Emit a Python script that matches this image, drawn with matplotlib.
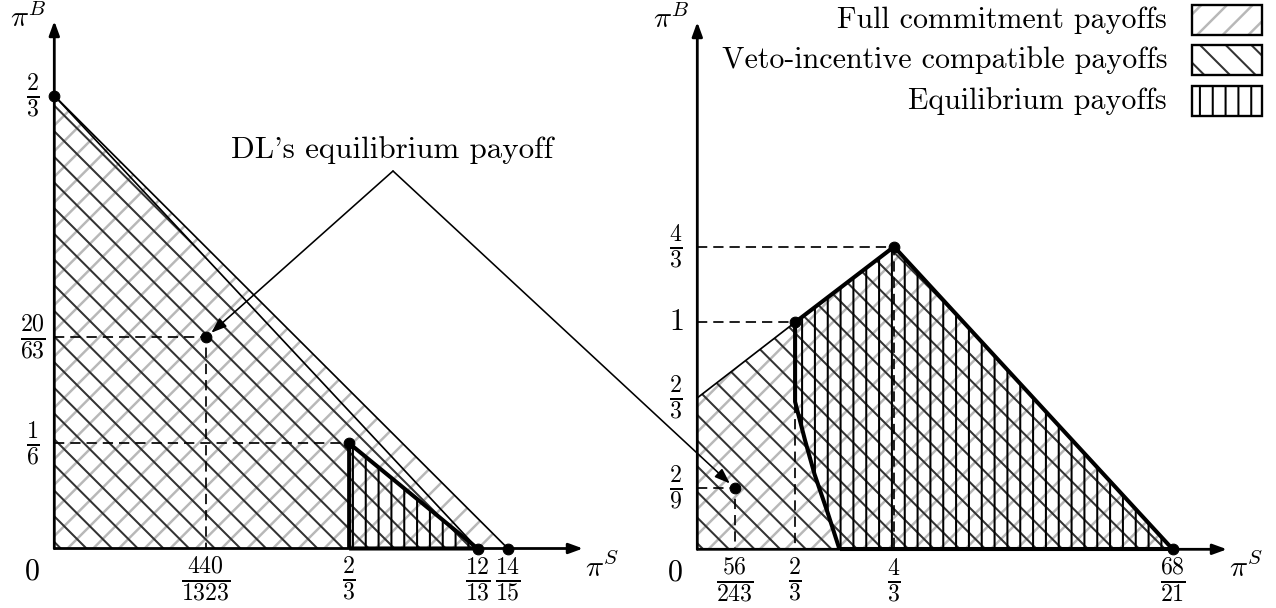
import matplotlib
matplotlib.use("Agg")
import matplotlib.pyplot as plt
from matplotlib.patches import Polygon, Rectangle

plt.rcParams['mathtext.fontset'] = 'cm'
plt.rcParams['font.family'] = 'cmr10'
plt.rcParams['axes.unicode_minus'] = False
plt.rcParams['hatch.linewidth'] = 2.0

DPI = 77
W, H = 1276, 608
FS = 28
FS_FRAC = 32

LIGHT = '#b8b8b8'
DARK = '#333333'

# ---- left panel (positions as drawn in the picture) ----
l_top = 0.667          # 2/3 on pi^B axis
l_full_end = 0.986     # 14/15
l_veto_end = 0.920     # 12/13
l_eq_x = 0.641         # 2/3
l_eq_y = 0.155         # 1/6
l_dl = (0.330, 0.311)  # (440/1323, 20/63)
l_xticks = [0.330, 0.641, 0.920, 0.986]
l_xlabels = [r'$\frac{440}{1323}$', r'$\frac{2}{3}$', r'$\frac{12}{13}$', r'$\frac{14}{15}$']
l_yticks = [0.667, 0.311, 0.155]
l_ylabels = [r'$\frac{2}{3}$', r'$\frac{20}{63}$', r'$\frac{1}{6}$']

# ---- right panel ----
r_full_x = [0, 0, 0.667, 1.342, 3.243]
r_full_y = [0, 0.667, 1.0, 1.333, 0]
r_eq_x = [0.667, 0.667, 0.735, 0.80, 0.89, 0.97]
r_eq_y = [1.0, 0.65, 0.48, 0.33, 0.16, 0]
r_dl = (0.257, 0.269)  # (56/243, 2/9)
r_xticks = [0.257, 0.667, 1.342, 3.243]
r_xlabels = [r'$\frac{56}{243}$', r'$\frac{2}{3}$', r'$\frac{4}{3}$', r'$\frac{68}{21}$']
r_yticks = [1.333, 1.0, 0.667, 0.269]
r_ylabels = [r'$\frac{4}{3}$', r'$1$', r'$\frac{2}{3}$', r'$\frac{2}{9}$']

legend_labels = ['Full commitment payoffs', 'Veto-incentive compatible payoffs', 'Equilibrium payoffs']


def pt(px):
    return px * 72 / DPI


fig = plt.figure(figsize=(W / DPI, H / DPI), dpi=DPI)

# axes placed so that the drawing origin lands where it is in the picture
axL = fig.add_axes([0, 0, 638 / W, 1])
axL.set_xlim(-54.3 / 460, (638 - 54.3) / 460)
axL.set_ylim(-(H - 548.5) / 678.8, 548.5 / 678.8)
axR = fig.add_axes([638 / W, 0, 638 / W, 1])
axR.set_xlim((638 - 697.3) / 146.6, (1276 - 697.3) / 146.6)
axR.set_ylim(-(H - 549.3) / 227, 549.3 / 227)
ov = fig.add_axes([0, 0, 1, 1])
ov.set_xlim(0, W)
ov.set_ylim(H, 0)
for a in (axL, axR, ov):
    a.axis('off')
ov.patch.set_alpha(0)


def hatch(ax, verts, pattern, color, hlw, z):
    p = Polygon(verts, closed=True, facecolor='none', edgecolor=color, lw=0, hatch=pattern, zorder=z)
    if hasattr(p, 'set_hatch_linewidth'):
        p.set_hatch_linewidth(hlw)
    ax.add_patch(p)
    return p


def axes_arrows(ax, xend, yend):
    ap = dict(arrowstyle='-|>,head_length=0.55,head_width=0.2', lw=2.6, color='k',
              shrinkA=0, shrinkB=0, mutation_scale=20)
    ax.annotate('', xy=(xend, 0), xytext=(0, 0), arrowprops=ap, zorder=8)
    ax.annotate('', xy=(0, yend), xytext=(0, 0), arrowprops=ap, zorder=8)


def ticklabels(ax, xt, xl, yt, yl, xend, yend):
    for x, s in zip(xt, xl):
        ax.annotate(s, (x, 0), xytext=(0, -pt(31)), textcoords='offset points',
                    ha='center', va='center', fontsize=FS_FRAC)
    for y, s in zip(yt, yl):
        fs = FS if s == r'$1$' else FS_FRAC
        ax.annotate(s, (0, y), xytext=(-pt(21), 0), textcoords='offset points',
                    ha='center', va='center', fontsize=fs)
    ax.annotate('$0$', (0, 0), xytext=(-pt(22), -pt(23)), textcoords='offset points',
                ha='center', va='center', fontsize=FS)
    ax.annotate(r'$\pi^B$', (0, yend), xytext=(-pt(26), pt(3)), textcoords='offset points',
                ha='center', va='center', fontsize=FS)
    ax.annotate(r'$\pi^S$', (xend, 0), xytext=(pt(2), -pt(19)), textcoords='offset points',
                ha='left', va='center', fontsize=FS)


dash = dict(color='k', lw=1.6, dashes=(6, 3.5), zorder=4)
thin = dict(color='k', lw=1.6, zorder=5, solid_capstyle='butt')
thick = dict(color='k', lw=3.8, zorder=6, solid_joinstyle='miter', solid_capstyle='butt')
dot = dict(marker='o', ms=10, color='k', ls='none', zorder=9)

# ---- left panel ----
hatch(axL, [(0, 0), (0, l_top), (l_full_end, 0)], '/', LIGHT, 2.3, 1)
hatch(axL, [(0, 0), (0, l_top), (l_veto_end, 0)], '\\', DARK, 1.9, 2)
hatch(axL, [(l_eq_x, 0), (l_eq_x, l_eq_y), (l_veto_end, 0)], '|', 'k', 1.9, 3)

axL.plot([0, l_dl[0], l_dl[0]], [l_dl[1], l_dl[1], 0], **dash)
axL.plot([0, l_eq_x], [l_eq_y, l_eq_y], **dash)
axL.plot([0, l_full_end], [l_top, 0], **thin)
axL.plot([0, l_veto_end], [l_top, 0], **thin)
axL.plot([l_eq_x, l_eq_x, l_veto_end, l_eq_x], [0, l_eq_y, 0, 0], **thick)
axL.plot([0, l_dl[0], l_eq_x, l_veto_end, l_full_end], [l_top, l_dl[1], l_eq_y, 0, 0], **dot)
axes_arrows(axL, (583 - 54.3) / 460, (548.5 - 21) / 678.8)
ticklabels(axL, l_xticks, l_xlabels, l_yticks, l_ylabels, (583 - 54.3) / 460, (548.5 - 21) / 678.8)

# ---- right panel ----
full = list(zip(r_full_x, r_full_y))
hatch(axR, full, '/', LIGHT, 2.3, 1)
hatch(axR, full, '\\', DARK, 1.9, 2)
eq = list(zip(r_eq_x, r_eq_y)) + [(r_full_x[4], 0), (r_full_x[3], r_full_y[3])]
hatch(axR, eq, '|', 'k', 1.9, 3)

axR.plot([0, r_full_x[3], r_full_x[3]], [r_full_y[3], r_full_y[3], 0], **dash)
axR.plot([0, r_full_x[2], r_full_x[2]], [r_full_y[2], r_full_y[2], 0], **dash)
axR.plot([0, r_dl[0], r_dl[0]], [r_dl[1], r_dl[1], 0], **dash)
axR.plot(r_full_x[1:3], r_full_y[1:3], **thin)
axR.plot(r_full_x[2:], r_full_y[2:], **thick)
axR.plot(r_eq_x, r_eq_y, **thick)
axR.plot([r_eq_x[-1], r_full_x[4]], [0, 0], **thick)
axR.plot([r_dl[0], r_full_x[2], r_full_x[3], r_full_x[4]], [r_dl[1], r_full_y[2], r_full_y[3], 0], **dot)
axes_arrows(axR, (1227 - 697.3) / 146.6, (549.3 - 22) / 227)
ticklabels(axR, r_xticks, r_xlabels, r_yticks, r_ylabels, (1227 - 697.3) / 146.6, (549.3 - 22) / 227)

# ---- annotation ----
apex = (393, 171)
ov.text(392, 150, "DL's equilibrium payoff", ha='center', va='center', fontsize=29)
ap = dict(arrowstyle='-|>,head_length=0.6,head_width=0.22', lw=1.5, color='k',
          shrinkA=0, shrinkB=pt(7), mutation_scale=20)
ov.annotate('', xy=l_dl, xycoords=axL.transData, xytext=apex, textcoords='data', arrowprops=ap)
ov.annotate('', xy=r_dl, xycoords=axR.transData, xytext=apex, textcoords='data', arrowprops=ap)

# ---- legend ----
leg_y = [20, 60, 101]
leg_style = [('/', LIGHT, 2.3), ('\\', DARK, 1.9), ('|', 'k', 1.9)]
for y, lab, (pat, col, hlw) in zip(leg_y, legend_labels, leg_style):
    ov.text(1167, y, lab, ha='right', va='center', fontsize=FS)
    r = Rectangle((1192, y - 15), 70, 30, facecolor='none', edgecolor=col, lw=0, hatch=pat, zorder=2)
    if hasattr(r, 'set_hatch_linewidth'):
        r.set_hatch_linewidth(hlw)
    ov.add_patch(r)
    ov.add_patch(Rectangle((1192, y - 15), 70, 30, facecolor='none', edgecolor='k', lw=2.2, zorder=3))

fig.savefig('out.png', dpi=DPI)
